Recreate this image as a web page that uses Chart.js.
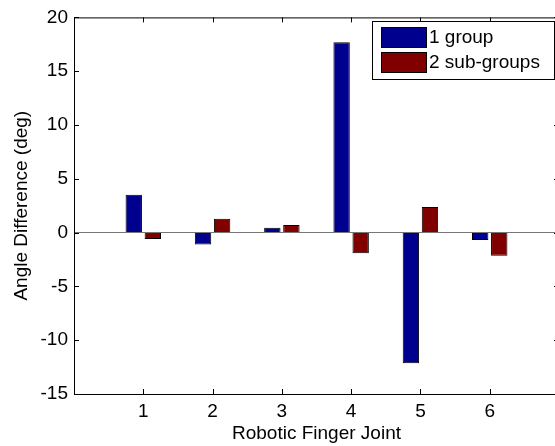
<!DOCTYPE html>
<html>
<head>
<meta charset="utf-8">
<script src="https://cdn.jsdelivr.net/npm/chart.js@4"></script>
<style>
  html, body { margin: 0; padding: 0; overflow: hidden; background: #fff; }
  #wrap { width: 560px; height: 446px; }
</style>
</head>
<body>
<div id="wrap"><canvas id="myChart" width="560" height="446"></canvas></div>
<script>
const joints = [1, 2, 3, 4, 5, 6];
const oneGroup = [3.52, -1.1, 0.46, 17.7, -12.15, -0.68];
const twoSubGroups = [-0.6, 1.29, 0.71, -1.93, 2.39, -2.14];
const yTicks = [-15, -10, -5, 0, 5, 10, 15, 20];

const FONT = { family: '"Liberation Sans", Arial, sans-serif', size: 19 };

// matlab style box with inward ticks + legend
const matlabAxes = {
  id: 'matlabAxes',
  afterDraw(chart) {
    const { ctx, chartArea: a, scales: { x, y } } = chart;
    ctx.save();
    ctx.strokeStyle = '#000';
    ctx.lineWidth = 1;
    ctx.strokeRect(a.left + 0.5, a.top + 0.5, a.right - a.left, a.bottom - a.top);
    ctx.beginPath();
    joints.forEach(j => {
      const px = Math.round(x.getPixelForValue(j)) + 0.5;
      ctx.moveTo(px, a.bottom); ctx.lineTo(px, a.bottom - 5);
      ctx.moveTo(px, a.top); ctx.lineTo(px, a.top + 5);
    });
    yTicks.forEach(t => {
      const py = Math.round(y.getPixelForValue(t)) + 0.5;
      ctx.moveTo(a.left, py); ctx.lineTo(a.left + 5, py);
      ctx.moveTo(a.right, py); ctx.lineTo(a.right - 5, py);
    });
    ctx.stroke();

    // legend
    const bx = 372, by = 21, bw = 182, bh = 58;
    ctx.fillStyle = '#fff';
    ctx.fillRect(bx, by, bw, bh);
    ctx.strokeRect(bx + 0.5, by + 0.5, bw, bh);
    ctx.font = FONT.size + 'px ' + FONT.family;
    ctx.textBaseline = 'middle';
    chart.data.datasets.forEach((ds, i) => {
      const sy = by + 6 + i * 25;
      ctx.fillStyle = ds.backgroundColor;
      ctx.fillRect(bx + 9, sy, 45, 20);
      ctx.strokeStyle = '#000';
      ctx.strokeRect(bx + 9.5, sy + 0.5, 45, 20);
      ctx.fillStyle = '#000';
      ctx.fillText(ds.label, bx + 57, sy + 11);
    });
    ctx.restore();
  }
};

const config = {
  type: 'bar',
  data: {
    datasets: [{
      label: '1 group',
      data: joints.map((j, i) => ({ x: j, y: oneGroup[i] })),
      backgroundColor: 'rgb(0,0,143)',
      borderColor: '#000',
      borderWidth: 1,
      categoryPercentage: 0.55,
      barPercentage: 0.86
    }, {
      label: '2 sub-groups',
      data: joints.map((j, i) => ({ x: j, y: twoSubGroups[i] })),
      backgroundColor: 'rgb(128,0,0)',
      borderColor: '#000',
      borderWidth: 1,
      categoryPercentage: 0.55,
      barPercentage: 0.86
    }]
  },
  options: {
    responsive: false,
    animation: false,
    layout: { padding: { top: 13, right: 1, left: 0, bottom: 0 } },
    scales: {
      x: {
        type: 'linear',
        min: 0,
        max: 7,
        offset: false,
        afterBuildTicks: s => { s.ticks = joints.map(v => ({ value: v })); },
        afterFit: s => { s.height = 52; },
        ticks: { font: FONT, color: '#000', padding: -2 },
        grid: { display: false },
        border: { display: false },
        title: { display: true, text: 'Robotic Finger Joint', font: FONT, color: '#000', padding: { top: 0, bottom: 1 } }
      },
      y: {
        min: -15,
        max: 20,
        afterBuildTicks: s => { s.ticks = yTicks.map(v => ({ value: v })); },
        afterFit: s => { s.width = 74; },
        ticks: { font: FONT, color: '#000', padding: 6 },
        grid: {
          drawTicks: false,
          color: c => (c.tick && c.tick.value === 0) ? '#777' : 'rgba(0,0,0,0)'
        },
        border: { display: false },
        title: { display: true, text: 'Angle Difference (deg)', font: FONT, color: '#000', padding: { top: 10, bottom: 0 } }
      }
    },
    plugins: {
      legend: { display: false },
      tooltip: { enabled: false }
    }
  },
  plugins: [matlabAxes]
};

new Chart(document.getElementById('myChart'), config);
</script>
</body>
</html>
